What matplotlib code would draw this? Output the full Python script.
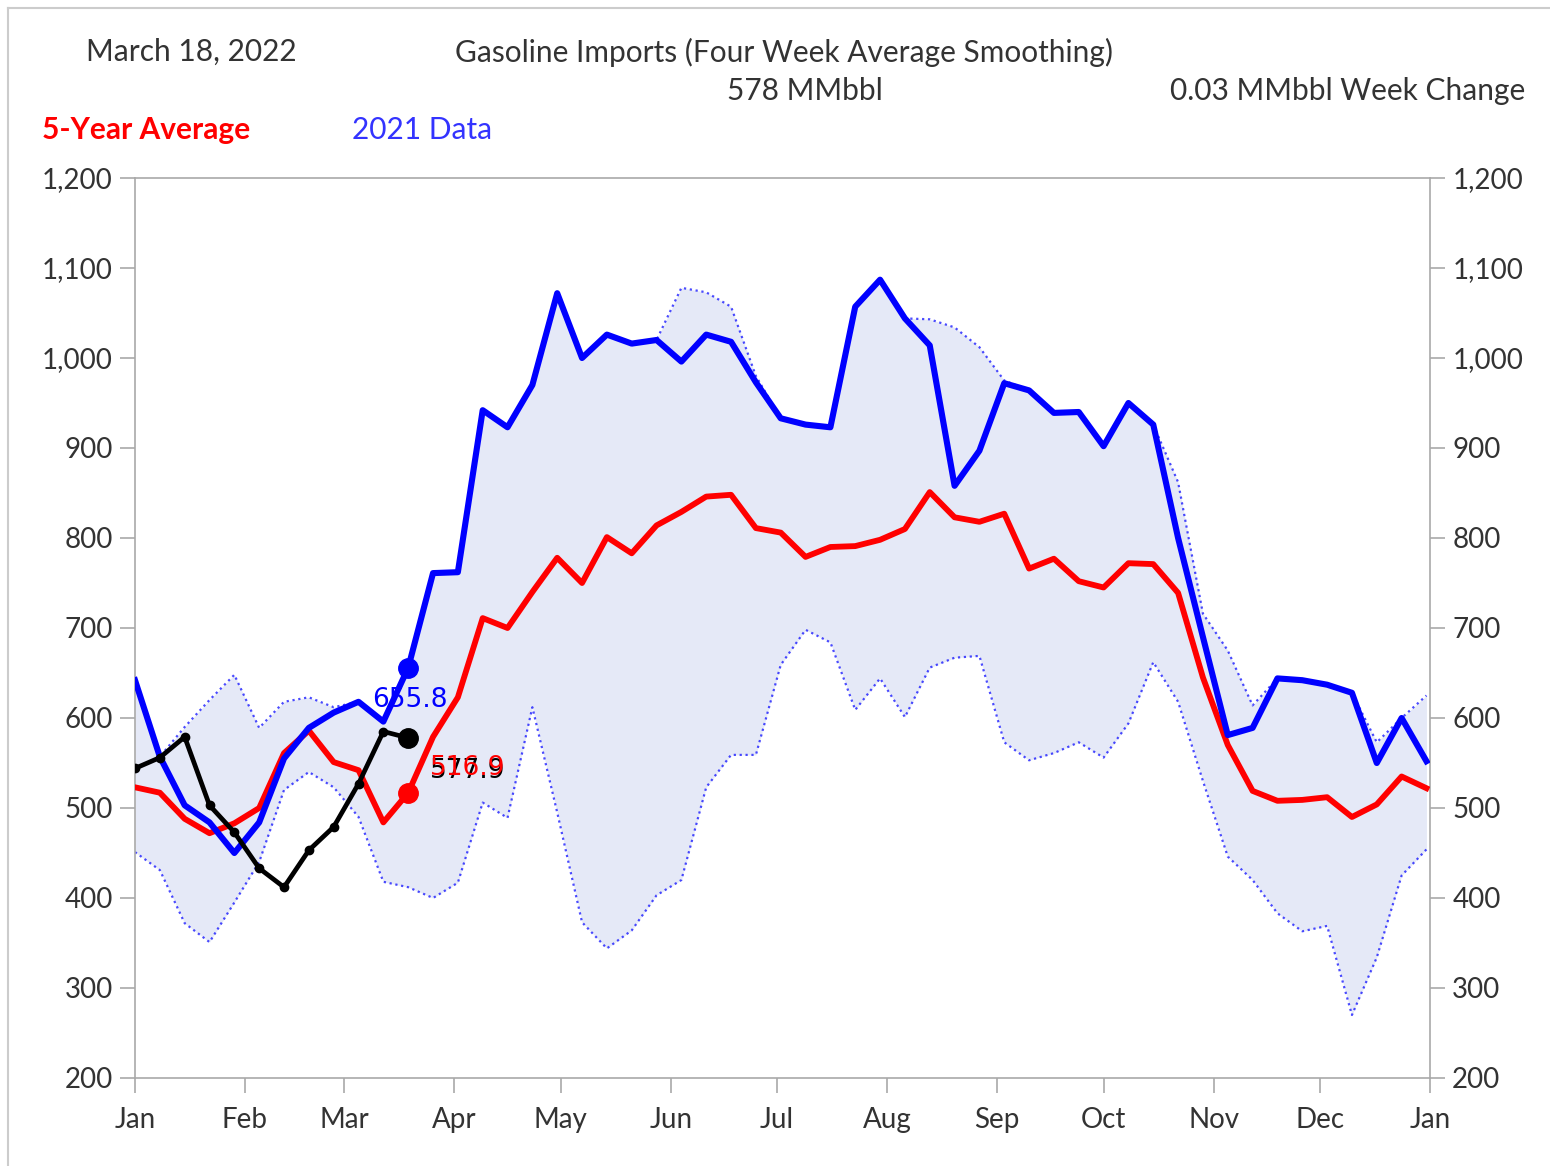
import numpy as np
import matplotlib
matplotlib.use("Agg")
import matplotlib.pyplot as plt
from matplotlib.lines import Line2D
from matplotlib.ticker import FuncFormatter

plt.rcParams['font.family'] = ['Lato', 'DejaVu Sans']

# ── data (weekly, 2021 / 5-year stats / 2022 so far) ──
data_2021 = [642, 557, 503, 484, 450, 484, 555, 589, 606, 618, 596, 655.8, 761, 762,
             942, 923, 970, 1072, 1000, 1026, 1016, 1020, 996, 1026, 1018, 973, 933,
             926, 923, 1057, 1087, 1044, 1014, 858, 897, 972, 964, 939, 940, 902, 950,
             926, 800, 690, 581, 589, 644, 642, 637, 628, 550, 600, 552]
avg_5yr = [523, 517, 488, 472, 483, 500, 561, 586, 551, 542, 484, 516.9, 579, 623,
           711, 700, 740, 778, 750, 801, 783, 814, 829, 846, 848, 811, 806, 779, 790,
           791, 798, 810, 851, 823, 818, 827, 766, 777, 752, 745, 772, 771, 739, 645,
           570, 519, 508, 509, 512, 490, 504, 535, 522]
max_5yr = [642, 557, 590, 620, 648, 589, 618, 623, 612, 618, 596, 656, 761, 762,
           942, 923, 970, 1072, 1000, 1026, 1016, 1020, 1078, 1073, 1057, 980, 933,
           926, 923, 1057, 1087, 1044, 1043, 1034, 1012, 975, 964, 939, 940, 902, 950,
           926, 862, 716, 675, 614, 644, 642, 637, 628, 573, 600, 625]
min_5yr = [451, 431, 372, 351, 395, 440, 520, 540, 523, 490, 418, 412, 400, 417,
           506, 489, 612, 495, 373, 344, 364, 403, 420, 523, 559, 559, 659, 698, 684,
           609, 644, 601, 656, 667, 669, 573, 553, 561, 573, 556, 594, 662, 618, 530,
           446, 420, 383, 363, 369, 270, 334, 425, 454]
data_2022 = [544, 556, 579, 503, 473, 433, 412, 453, 479, 527, 585, 577.9]

month_days = [0, 31, 59, 90, 120, 151, 181, 212, 243, 273, 304, 334, 365]
month_labels = ['Jan', 'Feb', 'Mar', 'Apr', 'May', 'Jun', 'Jul', 'Aug', 'Sep',
                'Oct', 'Nov', 'Dec', 'Jan']

days = np.arange(len(data_2021)) * 7
days_22 = np.arange(len(data_2022)) * 7
cur = len(data_2022) - 1

BLUE = '#0000ff'
RED = '#ff0000'
GRID = '#a9a9a9'
TXT = '#333333'
HEAD = 21.5

fig = plt.figure(figsize=(15.5, 11.66), dpi=100)
ax = fig.add_axes([135 / 1550, 1 - 1078 / 1166, 1295 / 1550, 900 / 1166])

ax.fill_between(days, min_5yr, max_5yr, color='#e5e9f7', lw=0, zorder=1)
ax.plot(days, max_5yr, ls=':', color=BLUE, lw=1.6, alpha=0.7, zorder=2)
ax.plot(days, min_5yr, ls=':', color=BLUE, lw=1.6, alpha=0.7, zorder=2)
ax.plot(days, avg_5yr, color=RED, lw=4.2, zorder=3)
ax.plot(days, data_2021, color=BLUE, lw=4.4, zorder=4)
ax.plot(days_22, data_2022, color='black', lw=3.4, marker='o', ms=6, zorder=5)

# current-week markers
ax.plot(days[cur], data_2021[cur], 'o', color=BLUE, ms=14, zorder=6)
ax.plot(days[cur], avg_5yr[cur], 'o', color=RED, ms=14, zorder=6)
ax.plot(days_22[cur], data_2022[cur], 'o', color='black', ms=14, zorder=6)

ax.text(days[cur] + 0.5, data_2021[cur] - 36, f"{data_2021[cur]:.1f}", color=BLUE,
        fontsize=19, family='DejaVu Sans', ha='center', va='center', zorder=7)
ax.text(days[cur] + 6, avg_5yr[cur] + 24, f"{data_2022[cur]:.1f}", color='black',
        fontsize=19, family='DejaVu Sans', ha='left', va='center', zorder=7)
ax.text(days[cur] + 6, avg_5yr[cur] + 28, f"{avg_5yr[cur]:.1f}", color=RED,
        fontsize=19, family='DejaVu Sans', ha='left', va='center', zorder=8)

ax.set_xlim(0, 365)
ax.set_ylim(200, 1200)
ax.set_xticks(month_days)
ax.set_xticklabels(month_labels)
ax.set_yticks(np.arange(200, 1201, 100))
ax.yaxis.set_major_formatter(FuncFormatter(lambda v, p: f"{int(v):,}"))
ax.tick_params(axis='both', colors=GRID, labelcolor=TXT, labelsize=20,
               length=11, width=1.2, direction='out')
ax.tick_params(axis='x', pad=10)
ax.tick_params(axis='y', pad=5, right=True, labelright=True)
for s in ax.spines.values():
    s.set_color(GRID)
    s.set_linewidth(1.2)

# header texts
fig.text(86 / 1550, 1 - 52 / 1166, 'March 18, 2022', fontsize=HEAD, color=TXT,
         ha='left', va='center')
fig.text(784 / 1550, 1 - 52 / 1166, 'Gasoline Imports (Four Week Average Smoothing)',
         fontsize=HEAD, color=TXT, ha='center', va='center')
fig.text(805 / 1550, 1 - 91 / 1166, '578 MMbbl', fontsize=HEAD, color=TXT,
         ha='center', va='center')
fig.text(1525 / 1550, 1 - 91 / 1166, '0.03 MMbbl Week Change', fontsize=HEAD, color=TXT,
         ha='right', va='center')
fig.text(42 / 1550, 1 - 130 / 1166, '5-Year Average', fontsize=HEAD, color=RED,
         fontweight='bold', ha='left', va='center')
fig.text(352 / 1550, 1 - 130 / 1166, '2021 Data', fontsize=HEAD, color='#3333ff',
         ha='left', va='center')

# outer frame
fig.add_artist(Line2D([8 / 1550, 1], [1 - 8 / 1166] * 2, color='#cccccc', lw=1.5))
fig.add_artist(Line2D([8 / 1550] * 2, [0, 1 - 8 / 1166], color='#cccccc', lw=1.5))

fig.savefig('out.png', dpi=100)
